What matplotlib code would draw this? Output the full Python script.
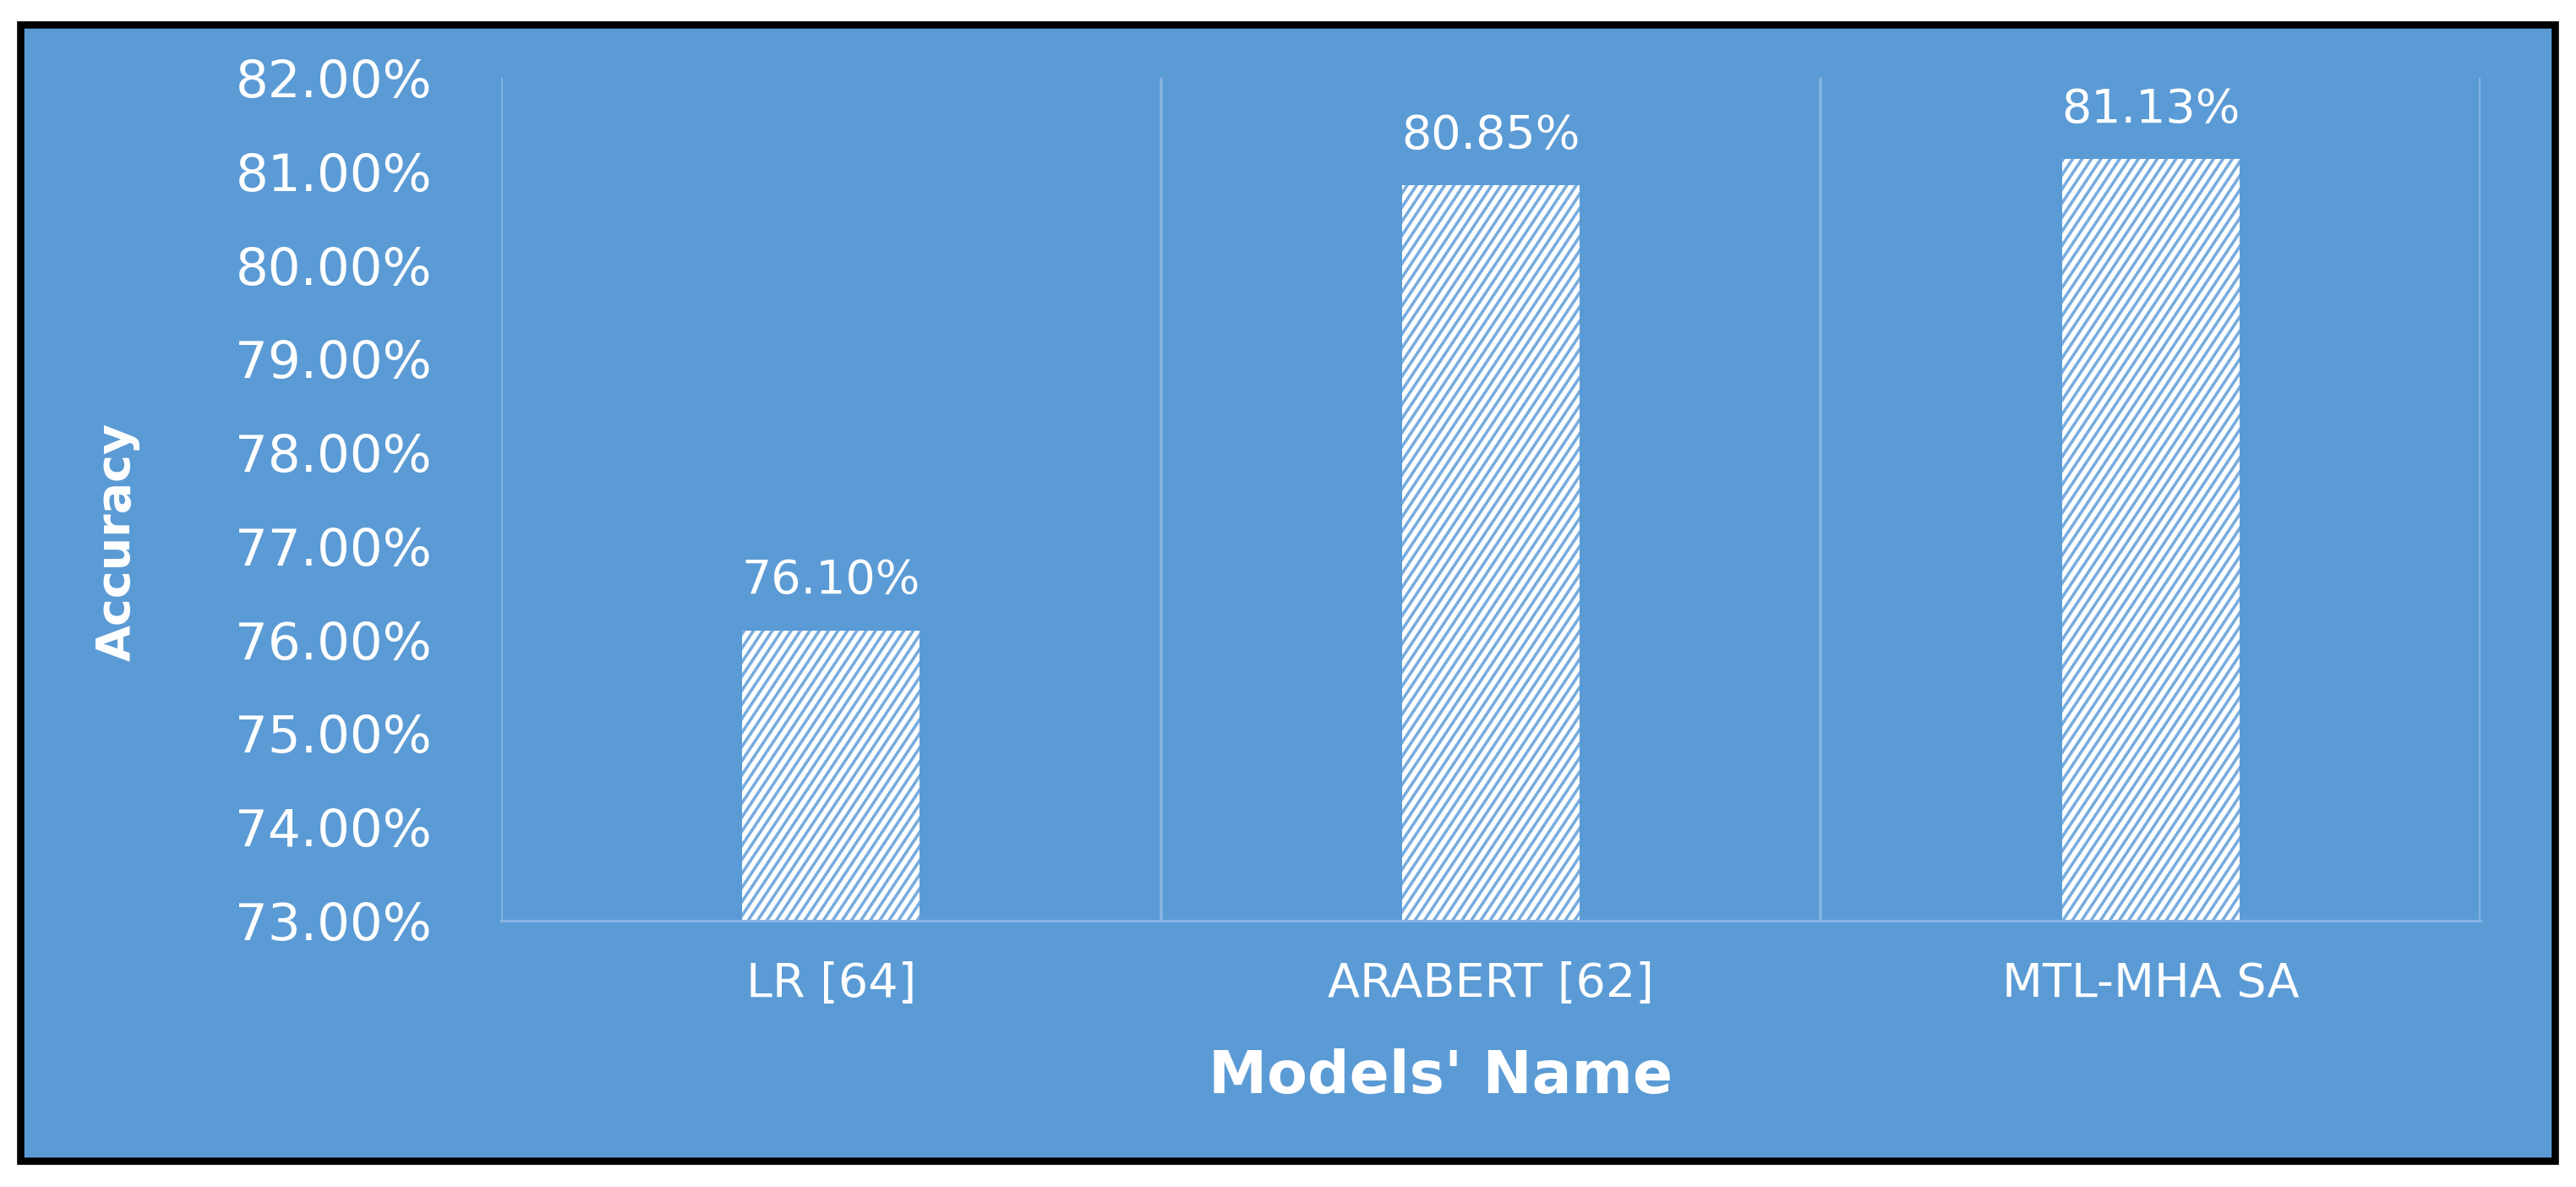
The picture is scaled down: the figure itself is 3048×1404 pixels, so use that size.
import matplotlib
matplotlib.use("Agg")
import numpy as np
import matplotlib.pyplot as plt
import matplotlib.hatch as mhatch
from matplotlib.path import Path
from matplotlib.patches import Rectangle

# ---- data ----
models = ["LR [64]", "ARABERT [62]", "MTL-MHA SA"]
accuracy = [76.10, 80.85, 81.13]
yticks = [73, 74, 75, 76, 77, 78, 79, 80, 81, 82]

BG = "#5B9BD5"
GRID = "#86B4E2"
HATCH = "#78ACDF"


# steeper, denser "/" hatch (slope 3:2) to mimic the Excel pattern fill
class SteepHatch(mhatch.HatchPatternBase):
    def __init__(self, hatch, density):
        self.ms = list(range(-7, 11)) if hatch.count("/") > 0 else []
        self.num_lines = len(self.ms)
        self.num_vertices = self.num_lines * 2

    def set_vertices_and_codes(self, vertices, codes):
        ys = np.array([-0.3, 1.3])
        k = 0
        for m in self.ms:
            xs = (m / 3 + 2 * ys) / 3
            vertices[k] = (xs[0], ys[0])
            vertices[k + 1] = (xs[1], ys[1])
            codes[k] = Path.MOVETO
            codes[k + 1] = Path.LINETO
            k += 2


mhatch._hatch_types = [SteepHatch if t is mhatch.NorthEastHatch else t
                       for t in mhatch._hatch_types]

W, H = 3048, 1404
DPI = 100
plt.rcParams["font.family"] = ["DejaVu Sans"]
plt.rcParams["hatch.linewidth"] = 2.6

fig = plt.figure(figsize=(W / DPI, H / DPI), dpi=DPI, facecolor="white")

# outer black-bordered blue panel
bx0, bx1 = 24 / W, 3023 / W
by0, by1 = 1 - 1373 / H, 1 - 29 / H
fig.patches.append(Rectangle((bx0, by0), bx1 - bx0, by1 - by0, transform=fig.transFigure,
                             facecolor=BG, edgecolor="black", linewidth=6.2, zorder=-5))

left, right = 593 / W, 2935 / W
top, bottom = 1 - 92 / H, 1 - 1089 / H
ax = fig.add_axes([left, bottom, right - left, top - bottom])
ax.set_zorder(2)
ax.set_facecolor("none")

x = list(range(len(models)))
bars = ax.bar(x, accuracy, width=0.269, bottom=0, color="white", edgecolor=HATCH,
              linewidth=0, hatch="/", zorder=3)

ax.set_xlim(-0.5, len(models) - 0.5)
ax.set_ylim(73, 82)

ax.set_yticks(yticks)
ax.set_yticklabels([f"{v:.2f}%" for v in yticks], color="white", fontsize=44)
ax.tick_params(axis="y", length=0, pad=59)

ax.set_xticks(x)
ax.set_xticklabels(models, color="white", fontsize=40)
for t in ax.get_xticklabels():
    t.set_va("center")
ax.tick_params(axis="x", length=0, pad=54)

# category boundary gridlines
ax.set_xticks([i - 0.5 for i in range(len(models) + 1)], minor=True)
ax.tick_params(axis="x", which="minor", length=0)
ax.grid(which="minor", axis="x", color=GRID, linewidth=2.6, zorder=1)
ax.grid(which="major", axis="both", visible=False)

for s in ["top", "left", "right"]:
    ax.spines[s].set_visible(False)
ax.spines["bottom"].set_color(GRID)
ax.spines["bottom"].set_linewidth(2.2)
ax.spines["bottom"].set_zorder(4)

for xi, v in zip(x, accuracy):
    ax.annotate(f"{v:.2f}%", xy=(xi, v), xytext=(0, 42), textcoords="offset points",
                ha="center", va="center", color="white", fontsize=40)

fig.text(1705 / W, 1 - 1273 / H, "Models' Name", ha="center", va="center",
         color="white", fontsize=50, fontweight="bold", zorder=3)
fig.text(139 / W, 1 - 641 / H, "Accuracy", ha="center", va="center", rotation=90,
         color="white", fontsize=40, fontweight="bold", zorder=3)

fig.savefig("out.png", dpi=DPI, facecolor="white")
